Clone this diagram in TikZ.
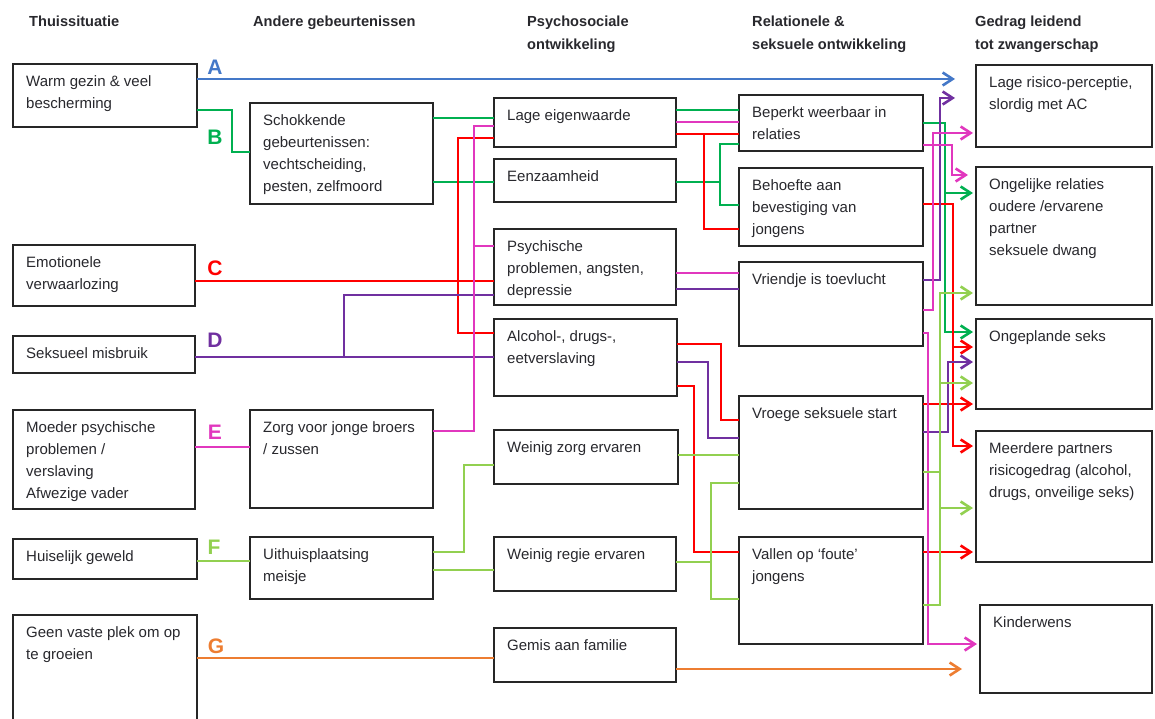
\documentclass[tikz,border=0pt]{standalone}
\usepackage{fontspec}
\setmainfont{Liberation Sans}
\usetikzlibrary{arrows.meta}
\definecolor{cA}{RGB}{68,120,200}
\definecolor{cB}{RGB}{0,176,80}
\definecolor{cC}{RGB}{255,0,0}
\definecolor{cD}{RGB}{112,48,160}
\definecolor{cE}{RGB}{225,55,190}
\definecolor{cF}{RGB}{146,208,80}
\definecolor{cG}{RGB}{237,125,49}
\definecolor{txtc}{RGB}{40,40,45}
\tikzset{
  boxst/.style={draw=black!85, line width=2.2pt, fill=white, inner sep=0pt, outer sep=0pt},
  txtst/.style={inner sep=0pt, align=left, font=\fontsize{15}{22}\selectfont, text=txtc},
  hdr/.style={inner sep=0pt, align=left, anchor=north west, font=\fontsize{14.6}{23}\selectfont\bfseries, text=txtc},
  lbl/.style={font=\fontsize{21}{21}\selectfont\bfseries, inner sep=0pt},
  ln/.style={line width=2pt},
  arr/.style={line width=2.2pt, -{Straight Barb[length=10pt,width=13pt,line width=2.6pt]}, shorten >=3pt},
}
\newcommand\bx[6]{%
  \node[boxst, anchor=north west, minimum width={#4-#2}, minimum height={#5-#3}] (#1) at (#2,#3) {};
  \node[txtst, anchor=north west] (#1t) at ([xshift=13pt,yshift=-7pt]#1.north west) {\strut #6};}
\begin{document}
\begin{tikzpicture}[x=1pt,y=-1pt]
\useasboundingbox (0,0) rectangle (1155,719);
% headers
\node[hdr] (h1) at (29,10) {\strut Thuissituatie};
\node[hdr] (h2) at (253,10) {\strut Andere gebeurtenissen};
\node[hdr] (h3) at (527,10) {\strut Psychosociale\\ontwikkeling};
\node[hdr] (h4) at (752,10) {\strut Relationele \&\\seksuele ontwikkeling};
\node[hdr] (h5) at (975,10) {\strut Gedrag leidend\\tot zwangerschap};
% column 1
\bx{warm}{13}{64}{197}{127}{Warm gezin \& veel\\bescherming}
\bx{emo}{13}{245}{195}{306}{Emotionele\\verwaarlozing}
\bx{sex}{13}{336}{195}{373}{Seksueel misbruik}
\bx{moeder}{13}{410}{195}{509}{Moeder psychische\\problemen /\\verslaving\\Afwezige vader}
\bx{huis}{13}{539}{197}{579}{Huiselijk geweld}
\bx{geen}{13}{615}{197}{730}{Geen vaste plek om op\\te groeien}
% column 2
\bx{schok}{250}{103}{433}{204}{Schokkende\\gebeurtenissen:\\vechtscheiding,\\pesten, zelfmoord}
\bx{zorg}{250}{410}{433}{508}{Zorg voor jonge broers\\/ zussen}
\bx{uit}{250}{537}{433}{599}{Uithuisplaatsing\\meisje}
% column 3
\bx{lage}{494}{98}{676}{147}{Lage eigenwaarde}
\bx{eenz}{494}{159}{676}{202}{Eenzaamheid}
\bx{psych}{494}{229}{676}{305}{Psychische\\problemen, angsten,\\depressie}
\bx{alc}{494}{319}{677}{396}{Alcohol-, drugs-,\\eetverslaving}
\bx{wzorg}{494}{430}{678}{484}{Weinig zorg ervaren}
\bx{wregie}{494}{537}{676}{591}{Weinig regie ervaren}
\bx{gemis}{494}{628}{676}{682}{Gemis aan familie}
% column 4
\bx{bep}{739}{95}{923}{151}{Beperkt weerbaar in\\relaties}
\bx{beh}{739}{168}{923}{246}{Behoefte aan\\bevestiging van\\jongens}
\bx{vriend}{739}{262}{923}{346}{Vriendje is toevlucht}
\bx{vroeg}{739}{396}{923}{509}{Vroege seksuele start}
\bx{vallen}{739}{537}{923}{644}{Vallen op ‘foute’\\jongens}
% column 5
\bx{risico}{976}{65}{1152}{147}{Lage risico-perceptie,\\slordig met AC}
\bx{ongel}{976}{167}{1152}{305}{Ongelijke relaties\\oudere /ervarene\\partner\\seksuele dwang}
\bx{onpl}{976}{319}{1152}{409}{Ongeplande seks}
\bx{meer}{976}{431}{1152}{562}{Meerdere partners\\risicogedrag (alcohol,\\drugs, onveilige seks)}
\bx{kind}{980}{605}{1152}{693}{Kinderwens}
% letters
\node[lbl, text=cA] (la) at (215,67) {A};
\node[lbl, text=cB] (lb) at (215,137) {B};
\node[lbl, text=cC] (lc) at (215,268) {C};
\node[lbl, text=cD] (ld) at (215,340) {D};
\node[lbl, text=cE] (le) at (215,432) {E};
\node[lbl, text=cF] (lf) at (214,547) {F};
\node[lbl, text=cG] (lg) at (216,646) {G};
% junctions
\coordinate (jB) at (945,193);
\coordinate (jB2) at (720,182);
\coordinate (jC) at (953,347);
\coordinate (jC2) at (704,134);
\coordinate (jD) at (344,357);
\coordinate (jE) at (474,246);
\coordinate (jF1) at (940,383);
\coordinate (jF2) at (940,508);
\coordinate (jF3) at (940,472);
\coordinate (jF4) at (711,562);
% A
\draw[arr, cA, shorten >=21pt] (warm.east |- 0,79) -- (risico.west |- 0,79);
% B
\draw[ln, cB] (warm.east |- 0,110) -- (232,110) -- (232,152) -- (schok.west |- 0,152);
\draw[ln, cB] (schok.east |- 0,118) -- (lage.west |- 0,118);
\draw[ln, cB] (schok.east |- 0,182) -- (eenz.west |- 0,182);
\draw[ln, cB] (lage.east |- 0,110) -- (bep.west |- 0,110);
\draw[ln, cB] (eenz.east |- 0,182) -- (jB2);
\draw[ln, cB] (bep.west |- 0,144) -- (720,144) -- (720,205) -- (beh.west |- 0,205);
\draw[arr, cB] (bep.east |- 0,123) -- (945,123) -- (945,332) -- (onpl.west |- 0,332);
\draw[arr, cB] (jB) -- (ongel.west |- 0,193);
% C
\draw[ln, cC] (emo.east |- 0,281) -- (psych.west |- 0,281);
\draw[ln, cC] (lage.west |- 0,138) -- (458,138) -- (458,333) -- (alc.west |- 0,333);
\draw[ln, cC] (lage.east |- 0,134) -- (bep.west |- 0,134);
\draw[ln, cC] (jC2) -- (704,229) -- (beh.west |- 0,229);
\draw[ln, cC] (alc.east |- 0,344) -- (721,344) -- (721,420) -- (vroeg.west |- 0,420);
\draw[ln, cC] (alc.east |- 0,386) -- (694,386) -- (694,552) -- (vallen.west |- 0,552);
\draw[arr, cC] (beh.east |- 0,204) -- (953,204) -- (953,446) -- (meer.west |- 0,446);
\draw[arr, cC] (jC) -- (onpl.west |- 0,347);
\draw[arr, cC] (vroeg.east |- 0,404) -- (onpl.west |- 0,404);
\draw[arr, cC] (vallen.east |- 0,552) -- (meer.west |- 0,552);
% D
\draw[ln, cD] (sex.east |- 0,357) -- (alc.west |- 0,357);
\draw[ln, cD] (jD) -- (344,295) -- (psych.west |- 0,295);
\draw[ln, cD] (psych.east |- 0,289) -- (vriend.west |- 0,289);
\draw[ln, cD] (alc.east |- 0,362) -- (708,362) -- (708,438) -- (vroeg.west |- 0,438);
\draw[arr, cD, shorten >=21pt] (vriend.east |- 0,280) -- (940,280) -- (940,98) -- (risico.west |- 0,98);
\draw[arr, cD] (vroeg.east |- 0,432) -- (948,432) -- (948,362) -- (onpl.west |- 0,362);
% E
\draw[ln, cE] (moeder.east |- 0,447) -- (zorg.west |- 0,447);
\draw[ln, cE] (zorg.east |- 0,431) -- (474,431) -- (474,126) -- (lage.west |- 0,126);
\draw[ln, cE] (jE) -- (psych.west |- 0,246);
\draw[ln, cE] (lage.east |- 0,122) -- (bep.west |- 0,122);
\draw[ln, cE] (psych.east |- 0,273) -- (vriend.west |- 0,273);
\draw[arr, cE, shorten >=8pt] (bep.east |- 0,145) -- (952,145) -- (952,175) -- (ongel.west |- 0,175);
\draw[arr, cE] (vriend.east |- 0,310) -- (933,310) -- (933,133) -- (risico.west |- 0,133);
\draw[arr, cE] (vriend.east |- 0,333) -- (928,333) -- (928,644) -- (kind.west |- 0,644);
% F
\draw[ln, cF] (huis.east |- 0,561) -- (uit.west |- 0,561);
\draw[ln, cF] (uit.east |- 0,552) -- (464,552) -- (464,465) -- (wzorg.west |- 0,465);
\draw[ln, cF] (uit.east |- 0,570) -- (wregie.west |- 0,570);
\draw[ln, cF] (wzorg.east |- 0,455) -- (vroeg.west |- 0,455);
\draw[ln, cF] (wregie.east |- 0,562) -- (jF4);
\draw[ln, cF] (vroeg.west |- 0,483) -- (711,483) -- (711,599) -- (vallen.west |- 0,599);
\draw[ln, cF] (vroeg.east |- 0,472) -- (jF3);
\draw[arr, cF] (vallen.east |- 0,605) -- (940,605) -- (940,293) -- (ongel.west |- 0,293);
\draw[arr, cF] (jF1) -- (onpl.west |- 0,383);
\draw[arr, cF] (jF2) -- (meer.west |- 0,508);
% G
\draw[ln, cG] (geen.east |- 0,658) -- (gemis.west |- 0,658);
\draw[arr, cG, shorten >=18pt] (gemis.east |- 0,669) -- (kind.west |- 0,669);
\end{tikzpicture}
\end{document}
